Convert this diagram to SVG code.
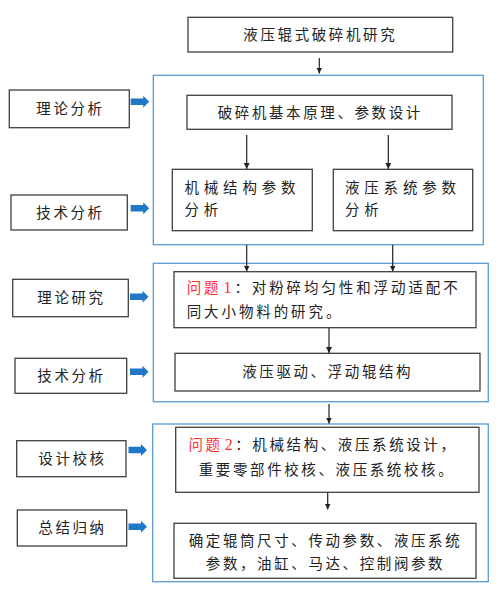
<svg xmlns="http://www.w3.org/2000/svg" width="500" height="593" viewBox="0 0 500 593">
<defs>
<style>
.box{fill:#fff;stroke:#404040;stroke-width:1.3}
.cont{fill:none;stroke:#5B9BD5;stroke-width:1.3}
.t{font-family:"Noto Sans CJK SC","Noto Sans",sans-serif;font-size:14.5px;fill:#222;letter-spacing:2.6px}
.tw{font-family:"Noto Sans CJK SC","Noto Sans",sans-serif;font-size:14.5px;fill:#222;letter-spacing:4.8px}
.red{fill:#FF3030}
.num{font-family:"Liberation Serif",serif;font-size:16px}
.line{stroke:#222;stroke-width:1.2;fill:none}
.blue{fill:#1F78C8}
</style>
<marker id="ah" viewBox="0 0 10 10" refX="10" refY="5" markerWidth="6" markerHeight="6" markerUnits="userSpaceOnUse" orient="auto">
<path d="M0,0 L10,5 L0,10 z" fill="#222"/>
</marker>
<path id="barrow" d="M0,-3.3 L12.5,-3.3 L12.5,-6 L18.5,0 L12.5,6 L12.5,3.3 L0,3.3 z"/>
</defs>

<g id="containers">
<rect class="cont" x="153.3" y="75.3" width="330" height="169.4"/>
<rect class="cont" x="153.3" y="263.3" width="335" height="138.4"/>
<rect class="cont" x="152.7" y="424" width="335.6" height="157.7"/>
</g>

<g id="n-title">
<rect class="box" x="188" y="17.3" width="264.7" height="34.7"/>
<text class="t" x="320.3" y="40" text-anchor="middle">液压辊式破碎机研究</text>
</g>

<g id="n-basic">
<rect class="box" x="187" y="95.3" width="265" height="34"/>
<text class="t" x="320.3" y="117.5" text-anchor="middle">破碎机基本原理、参数设计</text>
</g>

<g id="n-mech">
<rect class="box" x="172.3" y="169.3" width="140" height="61.4"/>
<text class="tw" x="184.5" y="193">机械结构参数</text>
<text class="tw" x="184.5" y="214.5">分析</text>
</g>

<g id="n-hyd">
<rect class="box" x="333.3" y="169.3" width="139.4" height="61.4"/>
<text class="tw" x="345" y="193">液压系统参数</text>
<text class="tw" x="345" y="214.5">分析</text>
</g>

<g id="n-q1">
<rect class="box" x="174" y="271.7" width="302" height="56"/>
<text class="t" x="186.7" y="293" style="letter-spacing:2.9px"><tspan class="red">问题</tspan><tspan class="red num" dx="2">1</tspan>：对粉碎均匀性和浮动适配不</text>
<text class="t" x="186.7" y="317" style="letter-spacing:2.9px">同大小物料的研究。</text>
</g>

<g id="n-drive">
<rect class="box" x="175" y="353.3" width="305" height="37.7"/>
<text class="t" x="327.7" y="377" text-anchor="middle">液压驱动、浮动辊结构</text>
</g>

<g id="n-q2">
<rect class="box" x="175.7" y="427.3" width="303.3" height="65"/>
<text class="t" x="323" y="449.5" text-anchor="middle"><tspan class="red">问题</tspan><tspan class="red num" dx="2">2</tspan>：机械结构、液压系统设计，</text>
<text class="t" x="327" y="474.5" text-anchor="middle">重要零部件校核、液压系统校核。</text>
</g>

<g id="n-result">
<rect class="box" x="174" y="523.3" width="302" height="55"/>
<text class="t" x="325.5" y="546" text-anchor="middle">确定辊筒尺寸、传动参数、液压系统</text>
<text class="t" x="325.5" y="568.5" text-anchor="middle">参数，油缸、马达、控制阀参数</text>
</g>

<g id="l-theory1">
<rect class="box" x="9.3" y="90" width="120" height="37.7"/>
<text class="t" x="70.5" y="113.8" text-anchor="middle">理论分析</text>
</g>
<g id="l-tech1">
<rect class="box" x="11" y="195" width="116.3" height="35"/>
<text class="t" x="70.5" y="217.5" text-anchor="middle">技术分析</text>
</g>
<g id="l-theory2">
<rect class="box" x="12.7" y="279.3" width="115.6" height="37.4"/>
<text class="t" x="71.5" y="303" text-anchor="middle">理论研究</text>
</g>
<g id="l-tech2">
<rect class="box" x="15" y="358.3" width="111.7" height="35"/>
<text class="t" x="71.5" y="381" text-anchor="middle">技术分析</text>
</g>
<g id="l-design">
<rect class="box" x="16.7" y="440.7" width="109.3" height="36"/>
<text class="t" x="72.5" y="463.5" text-anchor="middle">设计校核</text>
</g>
<g id="l-summary">
<rect class="box" x="17.3" y="510" width="109.4" height="36"/>
<text class="t" x="72.5" y="533" text-anchor="middle">总结归纳</text>
</g>

<g id="connectors">
<line class="line" x1="319.3" y1="58" x2="319.3" y2="73.5" marker-end="url(#ah)"/>
<line class="line" x1="246.7" y1="135" x2="246.7" y2="169" marker-end="url(#ah)"/>
<line class="line" x1="388.3" y1="135" x2="388.3" y2="169" marker-end="url(#ah)"/>
<line class="line" x1="246.7" y1="245" x2="246.7" y2="271.5" marker-end="url(#ah)"/>
<line class="line" x1="392.7" y1="245" x2="392.7" y2="271.5" marker-end="url(#ah)"/>
<line class="line" x1="329" y1="327.7" x2="329" y2="353" marker-end="url(#ah)"/>
<line class="line" x1="329" y1="404" x2="329" y2="423.5" marker-end="url(#ah)"/>
<line class="line" x1="327.7" y1="492.3" x2="327.7" y2="509.5" marker-end="url(#ah)"/>
<use href="#barrow" class="blue" x="130.7" y="101.7"/>
<use href="#barrow" class="blue" x="130.7" y="208.3"/>
<use href="#barrow" class="blue" x="130" y="296.7"/>
<use href="#barrow" class="blue" x="130" y="371.7"/>
<use href="#barrow" class="blue" x="128.5" y="450"/>
<use href="#barrow" class="blue" x="128.5" y="526.7"/>
</g>
</svg>
